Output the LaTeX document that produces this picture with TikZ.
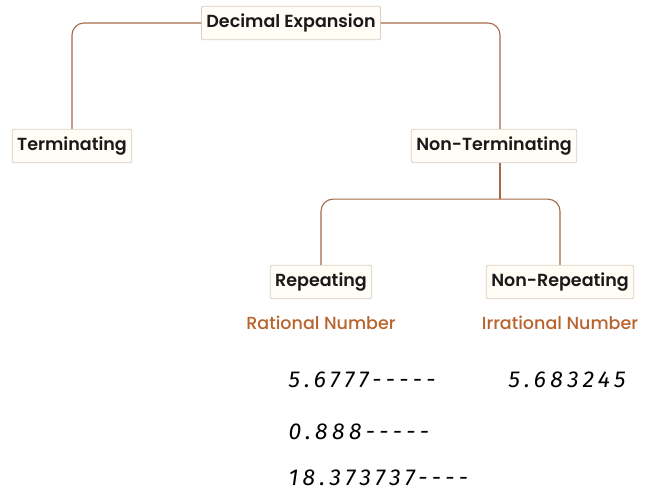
\documentclass[tikz,border=0pt]{standalone}
\usepackage{fontspec}
\setmainfont{Poppins}[BoldFont={Poppins SemiBold}]
\newfontfamily\labelfont{Poppins Medium}
\newfontfamily\handfont{Fira Sans}[ItalicFont={Fira Sans Italic}, LetterSpace=19]
\usetikzlibrary{calc}

\definecolor{linebrown}{HTML}{A5694A}
\definecolor{boxfill}{HTML}{FFFDF6}
\definecolor{boxedge}{HTML}{D9CFC2}
\definecolor{labelbrown}{HTML}{B8642E}

\tikzset{
  catbox/.style={draw=boxedge, fill=boxfill, rounded corners=2pt, line width=0.8pt,
    inner xsep=5pt, inner ysep=7.5pt, font=\fontsize{17.5}{20}\selectfont\bfseries, text=black!90},
  branch/.style={draw=linebrown, line width=1.1pt, rounded corners=12pt},
  typelabel/.style={text=labelbrown, font=\labelfont\fontsize{17.5}{20}\selectfont},
  sample/.style={anchor=west, font=\handfont\itshape\fontsize{23}{26}\selectfont}
}

\begin{document}
\begin{tikzpicture}[x=1pt, y=-1pt]
  \useasboundingbox (0,0) rectangle (651,494);
  % boxes
  \node[catbox] (dec) at (291,23) {Decimal Expansion};
  \node[catbox] (term) at (72,146) {Terminating};
  \node[catbox] (nonterm) at (494,146) {Non-Terminating};
  \node[catbox] (rep) at (321,282) {Repeating};
  \node[catbox] (nonrep) at (560,282) {Non-Repeating};
  \coordinate (fork) at ($(nonterm.south)+(6,36)$);
  % connectors
  \draw[branch] (dec.west) -| (term.north);
  \draw[branch] (dec.east) -| ($(nonterm.north)+(6,0)$);
  \draw[branch] ($(nonterm.south)+(6,0)$) -- (fork);
  \draw[branch] (fork) -| (rep.north);
  \draw[branch] (fork) -| (nonrep.north);
  % labels
  \node[typelabel] (rat) at (321,323) {Rational Number};
  \node[typelabel] (irr) at (560,323) {Irrational Number};
  % examples
  \node[sample] (ra) at (285,380) {5.6777-----};
  \node[sample] (rb) at (285,432) {0.888-----};
  \node[sample] (rc) at (285,478) {18.373737----};
  \node[sample] (ia) at (505,380) {5.683245};
\end{tikzpicture}
\end{document}
